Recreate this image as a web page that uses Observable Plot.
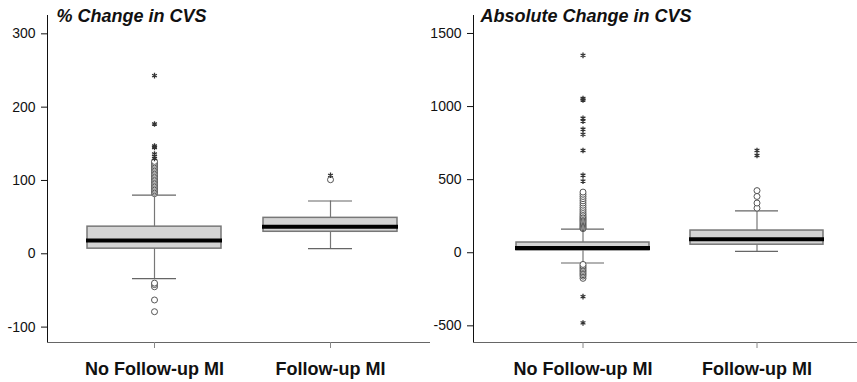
<!DOCTYPE html>
<html>
<head>
<meta charset="utf-8">
<script src="https://cdn.jsdelivr.net/npm/d3@7"></script>
<script src="https://cdn.jsdelivr.net/npm/@observablehq/plot@0.6"></script>
<style>
  html, body { margin: 0; padding: 0; background: #fff; }
  #wrap { display: flex; flex-direction: row; width: 857px; height: 382px; }
  svg { overflow: visible; }
</style>
</head>
<body>
<div id="wrap"></div>
<script>
// ---------- Data ----------
const groups = ["No Follow-up MI", "Follow-up MI"];

// % Change in CVS
const pctTitle = "% Change in CVS";
const pctTicks = [-100, 0, 100, 200, 300];
const pctLow    = [-34, 7];
const pctQ1     = [7, 30];
const pctMedian = [18, 37];
const pctQ3     = [37, 49];
const pctHigh   = [80, 72];
const pctCirclesNo = [-79, -63, -45, -42, -40, 82, 84, 86, 88, 90, 92, 94, 96, 98, 100, 102, 104, 106, 108, 110, 112, 114, 116, 118, 120, 122, 124, 126];
const pctStarsNo   = [130, 133, 136, 145, 147, 177, 243];
const pctCirclesFu = [101];
const pctStarsFu   = [107];

// Absolute Change in CVS
const absTitle = "Absolute Change in CVS";
const absTicks = [-500, 0, 500, 1000, 1500];
const absLow    = [-70, 9];
const absQ1     = [16, 55];
const absMedian = [32, 93];
const absQ3     = [70, 152];
const absHigh   = [161, 286];
const absCirclesNo = [-175, -160, -150, -140, -130, -120, -110, -100, -90, -80, 165, 172, 180, 188, 196, 204, 212, 220, 228, 236, 244, 252, 262, 272, 284, 296, 310, 325, 340, 355, 370, 385, 400, 415];
const absStarsNo   = [-480, -300, 490, 530, 700, 810, 845, 900, 920, 1045, 1055, 1350];
const absCirclesFu = [305, 340, 385, 425];
const absStarsFu   = [665, 700];

// ---------- Build ----------
function panel({title, ticks, low, q1, med, q3, high, circlesNo, starsNo, circlesFu, starsFu, width, marginLeft, domain, xRange, titleDx}) {
  const stats = groups.map((g, i) => ({group: g, low: low[i], q1: q1[i], med: med[i], q3: q3[i], high: high[i]}));
  const circles = [...circlesNo.map(v => ({group: groups[0], v})), ...circlesFu.map(v => ({group: groups[1], v}))];
  const stars = [...starsNo.map(v => ({group: groups[0], v})), ...starsFu.map(v => ({group: groups[1], v}))];
  return Plot.plot({
    width, height: 382,
    marginLeft, marginRight: 0, marginTop: 15, marginBottom: 40,
    style: {fontFamily: "'Liberation Sans', Arial, Helvetica, sans-serif", fontSize: "14px", color: "#111", background: "#fff"},
    x: {type: "band", domain: groups, range: xRange, paddingInner: 0.237, paddingOuter: 0},
    y: {domain, ticks, tickSize: 6, tickPadding: 6, line: true, label: null, tickFormat: d => String(d)},
    marks: [
      Plot.ruleY([domain[0]], {stroke: "#666"}),
      Plot.axisX({tickSize: 6, tickPadding: 14, fontSize: 18, fontWeight: "bold", label: null, stroke: "#888"}),
      Plot.ruleX(stats, {x: "group", y1: "low", y2: "high", stroke: "#777", strokeWidth: 1.2}),
      Plot.tickY(stats, {x: "group", y: "low", insetLeft: 45, insetRight: 45, stroke: "#666", strokeWidth: 1.2}),
      Plot.tickY(stats, {x: "group", y: "high", insetLeft: 45, insetRight: 45, stroke: "#666", strokeWidth: 1.2}),
      Plot.barY(stats, {x: "group", y1: "q1", y2: "q3", fill: "#d4d4d4", stroke: "#777", strokeWidth: 1.5}),
      Plot.tickY(stats, {x: "group", y: "med", stroke: "#000", strokeWidth: 4, insetLeft: -1, insetRight: -1}),
      Plot.dot(circles, {x: "group", y: "v", r: 3, stroke: "#555", fill: "#fff", strokeWidth: 1}),
      Plot.dot(stars, {x: "group", y: "v", r: 2.6, symbol: "asterisk", stroke: "#333", strokeWidth: 1.3}),
      Plot.text([title], {frameAnchor: "top-left", text: d => d, dx: titleDx, dy: 1, lineAnchor: "middle", textAnchor: "start", fontSize: 18, fontWeight: "bold", fontStyle: "italic", fill: "#111"})
    ]
  });
}

const wrap = document.getElementById("wrap");
wrap.append(panel({
  title: pctTitle, ticks: pctTicks, low: pctLow, q1: pctQ1, med: pctMedian, q3: pctQ3, high: pctHigh,
  circlesNo: pctCirclesNo, starsNo: pctStarsNo, circlesFu: pctCirclesFu, starsFu: pctStarsFu,
  width: 430, marginLeft: 47, domain: [-121, 325], xRange: [87, 398], titleDx: 9
}));
wrap.append(panel({
  title: absTitle, ticks: absTicks, low: absLow, q1: absQ1, med: absMedian, q3: absQ3, high: absHigh,
  circlesNo: absCirclesNo, starsNo: absStarsNo, circlesFu: absCirclesFu, starsFu: absStarsFu,
  width: 427, marginLeft: 43, domain: [-614, 1623], xRange: [85, 393], titleDx: 7
}));
</script>
</body>
</html>
